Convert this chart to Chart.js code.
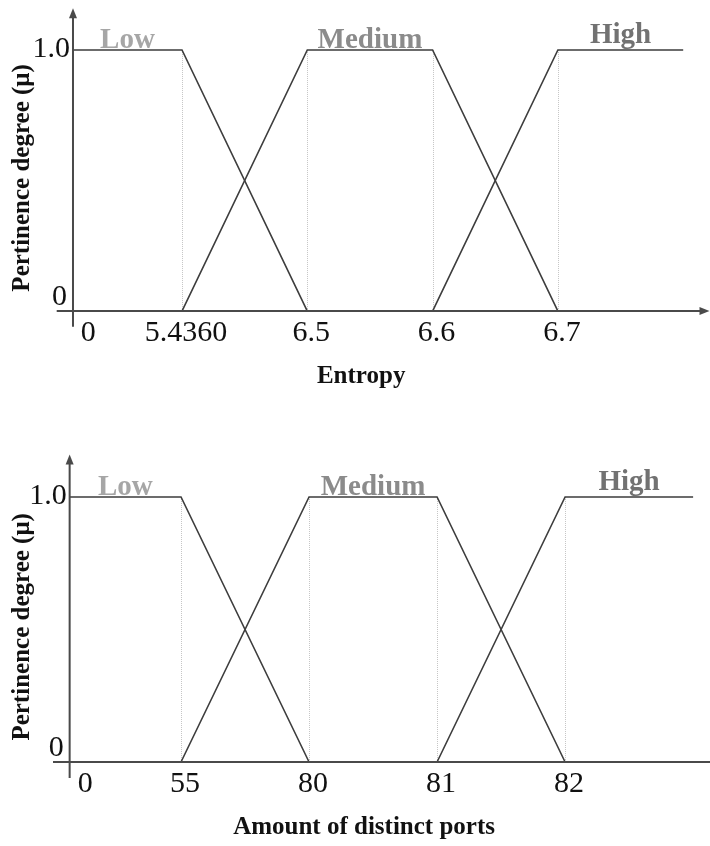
<!DOCTYPE html>
<html>
<head>
<meta charset="utf-8">
<script src="https://cdn.jsdelivr.net/npm/chart.js@4.4.1/dist/chart.umd.min.js"></script>
<style>
  body { margin: 0; background: #fff; }
  #wrap { position: relative; width: 710px; height: 846px; overflow: hidden; }
  canvas { position: absolute; left: 0; }
</style>
</head>
<body>
<div id="wrap">
  <canvas id="entropyChart" width="710" height="423" style="top:0"></canvas>
  <canvas id="portsChart" width="725" height="423" style="top:423px"></canvas>
</div>
<script>
// x values are slot positions: 0.13 is where the vertical axis sits,
// 1..4 the four break points, 5 the end of the last plateau
const setNames = ['Low', 'Medium', 'High'];
const lowX = [0.13, 1, 2];
const lowY = [1, 1, 0];
const medX = [1, 2, 3, 4];
const medY = [0, 1, 1, 0];
const highX = [3, 4, 5];
const highY = [0, 1, 1];
const breakPoints = [1, 2, 3, 4];

const tickSlots = [0.22, 1, 2, 3, 4];
const entropyTicks = ['0', '5.4360', '6.5', '6.6', '6.7'];
const portTicks = ['0', '55', '80', '81', '82'];
const yTickValues = [1, 0];
const yTickLabels = ['1.0', '0'];

const setColors = ['#a6a6a6', '#8b8b8b', '#727272'];
const lineColor = '#3d3d3d';
const axisColor = '#4a4a4a';
const serif = '"Liberation Serif", "Times New Roman", serif';

function pts(xs, ys) {
  return xs.map((v, i) => ({ x: v, y: ys[i] }));
}

function plateau(xs, ys) {
  const top = xs.filter((v, i) => ys[i] === 1);
  return (top[0] + top[top.length - 1]) / 2;
}

function makeChart(id, tickLabels, xTitle, pad) {
  const axisAt = lowX[0];

  const fuzzyAxes = {
    id: 'fuzzyAxes',
    beforeDatasetsDraw(chart) {
      const { ctx, scales: { x, y } } = chart;
      ctx.save();
      ctx.strokeStyle = '#c6c6c6';
      ctx.lineWidth = 1;
      ctx.setLineDash([1, 1]);
      breakPoints.forEach(b => {
        const px = Math.round(x.getPixelForValue(b)) + 0.5;
        ctx.beginPath();
        ctx.moveTo(px, y.getPixelForValue(0));
        ctx.lineTo(px, y.getPixelForValue(1));
        ctx.stroke();
      });
      ctx.restore();
    },
    afterDatasetsDraw(chart) {
      const { ctx, scales: { x, y } } = chart;
      const y0 = y.getPixelForValue(0);
      const ax = x.getPixelForValue(axisAt);
      ctx.save();

      // axes with arrows
      ctx.strokeStyle = axisColor;
      ctx.fillStyle = axisColor;
      ctx.lineWidth = 2;
      ctx.beginPath();
      ctx.moveTo(x.left, y0);
      ctx.lineTo(x.right - 6, y0);
      ctx.moveTo(ax, y.bottom);
      ctx.lineTo(ax, y.top + 6);
      ctx.stroke();
      ctx.beginPath();
      ctx.moveTo(x.right, y0);
      ctx.lineTo(x.right - 10, y0 - 4);
      ctx.lineTo(x.right - 10, y0 + 4);
      ctx.closePath();
      ctx.fill();
      ctx.beginPath();
      ctx.moveTo(ax, y.top);
      ctx.lineTo(ax - 4, y.top + 10);
      ctx.lineTo(ax + 4, y.top + 10);
      ctx.closePath();
      ctx.fill();

      // x tick labels
      ctx.fillStyle = '#111';
      ctx.font = '30px ' + serif;
      ctx.textAlign = 'center';
      ctx.textBaseline = 'middle';
      tickLabels.forEach((t, i) => {
        ctx.fillText(t, x.getPixelForValue(tickSlots[i]) + 4, y0 + 22);
      });

      // y tick labels
      ctx.font = '30px ' + serif;
      ctx.textAlign = 'right';
      yTickValues.forEach((v, i) => {
        const py = y.getPixelForValue(v) - (v === 0 ? 14 : 1);
        ctx.fillText(yTickLabels[i], ax - (v === 0 ? 6 : 3), py);
      });

      // set names over the plateaus
      ctx.font = 'bold 29px ' + serif;
      ctx.textAlign = 'center';
      ctx.textBaseline = 'alphabetic';
      const plateaus = [plateau(lowX, lowY), plateau(medX, medY), plateau(highX, highY)];
      setNames.forEach((n, i) => {
        ctx.fillStyle = setColors[i];
        ctx.fillText(n, x.getPixelForValue(plateaus[i]), y.getPixelForValue(1) - (i === 2 ? 7 : 2));
      });

      // axis titles
      ctx.fillStyle = '#111';
      ctx.font = 'bold 25px ' + serif;
      ctx.textBaseline = 'middle';
      ctx.fillText(xTitle, x.getPixelForValue(2.43), y0 + 66);
      ctx.translate(23, y.getPixelForValue(0.51));
      ctx.rotate(-Math.PI / 2);
      ctx.fillText('Pertinence degree (μ)', 0, 0);
      ctx.restore();
    }
  };

  const sets = [pts(lowX, lowY), pts(medX, medY), pts(highX, highY)];

  return new Chart(document.getElementById(id), {
    type: 'line',
    data: {
      datasets: sets.map((d, i) => ({
        label: setNames[i],
        data: d,
        borderColor: lineColor,
        borderWidth: 1.6,
        pointRadius: 0,
        tension: 0,
        fill: false,
        clip: false
      }))
    },
    options: {
      responsive: false,
      animation: false,
      layout: { padding: pad },
      plugins: { legend: { display: false }, tooltip: { enabled: false } },
      scales: {
        x: { type: 'linear', display: false, min: 0, max: 5.21 },
        y: { display: false, min: -0.06, max: 1.16 }
      }
    },
    plugins: [fuzzyAxes]
  });
}

makeChart('entropyChart', entropyTicks, 'Entropy', { left: 56.7, right: 0.5, top: 8.2, bottom: 96.3 });
makeChart('portsChart', portTicks, 'Amount of distinct ports', { left: 53, right: 5, top: 31.6, bottom: 68.1 });
</script>
</body>
</html>
